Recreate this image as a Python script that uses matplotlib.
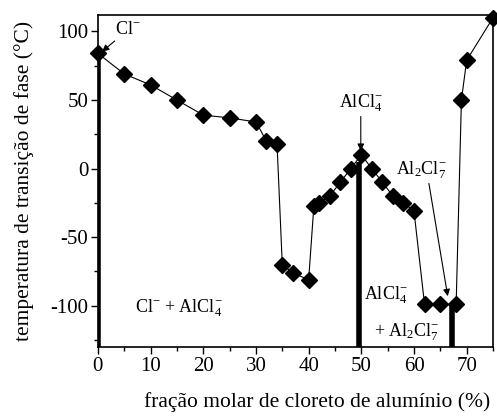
import matplotlib
matplotlib.use("Agg")
import matplotlib.pyplot as plt
from matplotlib.ticker import MultipleLocator

plt.rcParams['font.family'] = ['Liberation Serif', 'DejaVu Serif']
plt.rcParams['mathtext.fontset'] = 'custom'
plt.rcParams['mathtext.rm'] = 'Liberation Serif'
plt.rcParams['mathtext.it'] = 'Liberation Serif:italic'
plt.rcParams['axes.unicode_minus'] = False

# fração molar (%) and transition temperature (°C)
frac = [0, 5, 10, 15, 20, 25, 30, 32, 34, 35, 37, 40, 41, 42, 44, 46, 48,
        50, 52, 54, 56, 58, 60, 62, 65, 68, 69, 70, 75]
temp = [84, 69, 61, 50, 39, 37, 34, 20, 18, -70, -76, -81, -27, -25, -20, -10, 0,
        10, 0, -10, -20, -25, -31, -99, -99, -99, 50, 79, 110]

# compound composition lines
comp_x = [0, 49.6, 67.2]
comp_top = [84, 5, -100]

fig = plt.figure(figsize=(4.97, 4.16), dpi=100)
ax = fig.add_axes([0.197, 0.166, 0.795, 0.798])

ymin = -130
for cx, ct in zip(comp_x, comp_top):
    ax.plot([cx, cx], [ymin, ct], color='black', lw=4, solid_capstyle='butt', zorder=2)

ax.plot(frac, temp, color='black', lw=0.8, marker='D', ms=8, zorder=3, clip_on=False)

ax.set_xlim(0, 75)
ax.set_ylim(ymin, 112)
ax.xaxis.set_major_locator(MultipleLocator(10))
ax.xaxis.set_minor_locator(MultipleLocator(5))
ax.yaxis.set_major_locator(MultipleLocator(50))
ax.yaxis.set_minor_locator(MultipleLocator(25))
ax.tick_params(which='both', direction='out', top=False, right=False, labelsize=15)
ax.tick_params(which='major', length=5, width=1, pad=2)
ax.tick_params(which='minor', length=3, width=1)
for s in ax.spines.values():
    s.set_linewidth(1.2)

ax.set_xlabel('fração molar de cloreto de alumínio (%)', fontsize=15.5)
ax.xaxis.set_label_coords(0.554, -0.135)
ax.set_ylabel('temperatura de transição de fase (°C)', fontsize=15.5)
ax.yaxis.set_label_coords(-0.163, 0.5)

fs = 13
ax.annotate(r'Cl$^{-}$', xy=(0.4, 84), xytext=(3.3, 98), fontsize=fs,
            arrowprops=dict(arrowstyle='-|>', color='black', lw=0.8, mutation_scale=10,
                            shrinkA=0, shrinkB=2))
ax.annotate(r'AlCl$_4^{-}$', xy=(49.9, 13), xytext=(49.9, 40), fontsize=fs,
            ha='center', va='bottom',
            arrowprops=dict(arrowstyle='-|>', color='black', lw=0.8, mutation_scale=10,
                            shrinkA=0, shrinkB=0))
ax.annotate(r'Al$_2$Cl$_7^{-}$', xy=(66.4, -93), xytext=(56.5, -4), fontsize=fs,
            arrowprops=dict(arrowstyle='-|>', color='black', lw=0.8, mutation_scale=10,
                            shrinkA=0, shrinkB=0, relpos=(0.65, 0)))
ax.text(7, -102, r'Cl$^{-}$ + AlCl$_4^{-}$', fontsize=fs, va='center')
ax.text(50.5, -92, r'AlCl$_4^{-}$', fontsize=fs, va='center')
ax.text(52.5, -119, r'+ Al$_2$Cl$_7^{-}$', fontsize=fs, va='center')

fig.savefig('out.png', dpi=100)
